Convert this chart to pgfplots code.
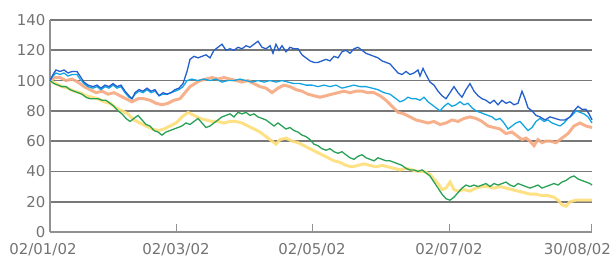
\documentclass[border=0pt]{standalone}
\usepackage{pgfplots}
\pgfplotsset{compat=1.18}
\usepackage{fontspec}
\setmainfont{DejaVu Sans}
\definecolor{cBlue}{RGB}{35,95,205}
\definecolor{cCyan}{RGB}{20,165,225}
\definecolor{cOrange}{RGB}{245,168,128}
\definecolor{cYellow}{RGB}{255,222,120}
\definecolor{cGreen}{RGB}{40,160,85}
\definecolor{cGrid}{RGB}{120,120,120}
\definecolor{cAxis}{RGB}{145,145,145}
\definecolor{cLab}{RGB}{115,115,115}
\begin{document}
\begin{tikzpicture}
\begin{axis}[
  scale only axis, width=542bp, height=212bp,
  xmin=50, xmax=592, ymin=0, ymax=140,
  axis x line*=bottom, axis y line*=left,
  axis line style={cAxis, line width=1.4pt},
  ytick={0,20,...,140},
  ymajorgrids, grid style={cGrid, line width=1.7pt},
  ytick style={draw=none},
  xtick={50,176,312,449,591},
  xticklabels={\makebox[0pt]{\hspace*{-14bp}02/01/02},02/03/02,02/05/02,02/07/02,\makebox[0pt][r]{30/08/02\hspace*{-20bp}}},
  xtick style={cAxis, line width=1pt},
  major tick length=8bp, tick align=inside,
  tick label style={font=\fontsize{15}{17}\selectfont, text=cLab},
  /pgf/number format/assume math mode=true,
  yticklabel style={xshift=-1bp},
  xticklabel style={yshift=-8bp},
  clip=false,
]
\addplot[cOrange, line width=3pt, opacity=0.9] coordinates {(50,100)(55,102)(60,102)(66,100)(72,101)(78,99)(84,96)(90,94)(96,92)(102,93)(108,91)(114,92)(120,90)(126,88)(132,86)(138,88)(144,88)(150,87)(156,85)(162,84)(168,85)(174,87)(180,88)(185,92)(190,96)(195,98)(200,100)(206,101)(212,102)(218,101)(224,102)(230,101)(236,100)(242,99)(248,100)(254,98)(260,96)(266,95)(272,92)(278,95)(284,97)(290,96)(296,94)(302,93)(308,91)(314,90)(320,89)(326,90)(332,91)(338,92)(344,93)(350,92)(356,93)(362,93)(368,92)(374,92)(380,90)(386,87)(392,83)(398,79)(404,78)(410,76)(416,74)(422,73)(428,72)(434,73)(440,71)(446,72)(452,74)(458,73)(464,75)(470,76)(476,75)(482,73)(488,70)(494,69)(500,68)(506,65)(512,66)(518,63)(522,61)(526,62)(530,60)(534,57)(538,61)(542,59)(546,60)(550,60)(556,59)(562,62)(568,65)(574,70)(580,72)(586,70)(592,69)};
\addplot[cYellow, line width=3pt, opacity=0.9] coordinates {(50,100)(56,98)(62,96)(68,95)(74,93)(80,92)(86,90)(92,89)(98,88)(104,86)(110,85)(116,82)(122,80)(128,78)(134,74)(140,72)(146,70)(152,68)(158,67)(164,68)(170,70)(176,72)(182,76)(188,79)(194,77)(200,75)(206,74)(212,73)(218,73)(224,72)(230,73)(236,73)(242,72)(248,70)(254,68)(260,66)(266,63)(272,60)(276,58)(280,61)(286,62)(292,60)(298,59)(304,57)(310,55)(316,53)(322,51)(328,49)(334,47)(340,46)(346,44)(352,43)(358,44)(364,45)(370,44)(376,43)(382,44)(388,43)(394,42)(400,41)(406,42)(412,41)(418,40)(424,40)(430,38)(434,35)(438,32)(442,28)(446,29)(450,33)(454,28)(458,27)(464,28)(470,27)(476,29)(482,30)(488,30)(494,29)(500,30)(506,29)(512,28)(518,27)(524,26)(530,25)(536,25)(542,24)(548,24)(554,23)(558,21)(562,18)(566,17)(570,20)(576,21)(582,21)(588,21)(592,21)};
\addplot[cGreen, line width=1.3pt] coordinates {(50,100)(54,98)(58,97)(62,96)(66,96)(70,94)(74,93)(78,92)(82,91)(86,89)(90,88)(94,88)(98,88)(102,87)(106,87)(110,85)(114,83)(118,80)(122,78)(126,75)(130,73)(134,75)(138,77)(142,74)(146,71)(150,70)(154,67)(158,66)(162,64)(166,66)(170,67)(174,68)(178,69)(182,70)(186,72)(190,71)(194,73)(198,75)(202,72)(206,69)(210,70)(214,72)(218,74)(222,76)(226,77)(230,78)(234,76)(238,79)(242,78)(246,79)(250,77)(254,78)(258,76)(262,75)(266,74)(270,72)(274,70)(278,72)(282,70)(286,68)(290,69)(294,67)(298,66)(302,64)(306,63)(310,61)(314,58)(318,57)(322,55)(326,54)(330,55)(334,53)(338,52)(342,53)(346,51)(350,49)(354,48)(358,50)(362,51)(366,49)(370,48)(374,47)(378,49)(382,48)(386,47)(390,47)(394,46)(398,45)(402,44)(406,42)(410,41)(414,41)(418,40)(422,41)(426,39)(430,37)(434,33)(438,29)(442,25)(446,22)(450,21)(454,23)(458,26)(462,29)(466,31)(470,30)(474,31)(478,30)(482,31)(486,32)(490,30)(494,32)(498,31)(502,32)(506,33)(510,31)(514,30)(518,32)(522,31)(526,30)(530,29)(534,30)(538,31)(542,29)(546,30)(550,31)(554,32)(558,31)(562,33)(566,34)(570,36)(574,37)(578,35)(582,34)(586,33)(590,32)(592,31)};
\addplot[cCyan, line width=1.3pt] coordinates {(50,100)(53,103)(56,105)(60,104)(64,105)(68,103)(72,104)(77,104)(80,101)(84,98)(88,96)(93,95)(97,96)(101,94)(105,96)(109,95)(113,97)(117,95)(121,96)(125,92)(129,89)(132,88)(135,91)(139,93)(143,92)(147,94)(151,92)(155,93)(159,90)(163,91)(167,91)(171,92)(175,93)(179,94)(183,96)(187,100)(192,101)(198,100)(204,101)(210,100)(216,101)(222,99)(228,100)(234,100)(240,101)(246,100)(252,99)(258,100)(264,99)(270,100)(276,99)(282,100)(288,99)(294,98)(300,98)(306,97)(312,97)(318,96)(324,97)(330,96)(336,97)(342,95)(348,96)(354,97)(360,96)(366,96)(372,95)(378,94)(384,92)(390,91)(396,88)(400,86)(404,87)(408,89)(412,88)(416,88)(420,87)(424,89)(428,86)(432,84)(436,82)(440,80)(444,83)(448,85)(452,83)(456,84)(460,86)(464,84)(468,85)(472,82)(476,80)(480,79)(484,78)(488,77)(492,76)(496,74)(500,75)(504,72)(508,68)(512,70)(516,72)(520,73)(524,70)(528,67)(532,69)(536,73)(540,75)(544,73)(548,74)(552,72)(556,71)(560,70)(564,72)(568,75)(572,77)(576,80)(580,79)(584,78)(588,76)(592,72)};
\addplot[cBlue, line width=1.3pt] coordinates {(50,100)(53,104)(56,107)(60,106)(64,107)(68,105)(72,106)(77,106)(80,103)(84,99)(88,97)(93,96)(97,97)(101,95)(105,97)(109,96)(113,98)(117,96)(121,97)(125,93)(129,90)(132,88)(135,92)(139,94)(143,93)(147,95)(151,93)(155,94)(159,90)(163,92)(167,91)(171,92)(175,94)(179,95)(183,98)(187,106)(190,114)(194,116)(198,115)(202,116)(206,117)(210,115)(214,120)(218,122)(222,124)(226,120)(230,121)(234,120)(238,122)(242,121)(246,123)(250,122)(254,124)(258,126)(262,122)(266,121)(270,123)(273,118)(276,124)(279,120)(282,123)(286,119)(290,122)(294,121)(298,121)(302,117)(306,115)(310,113)(314,112)(318,112)(322,113)(326,114)(330,113)(334,116)(338,115)(342,119)(346,120)(350,118)(354,121)(358,122)(362,120)(366,118)(370,117)(374,116)(378,115)(382,113)(386,112)(390,111)(394,108)(398,105)(402,104)(406,106)(410,104)(414,105)(418,107)(420,103)(423,108)(426,104)(430,99)(434,97)(438,93)(442,90)(446,88)(450,92)(454,96)(458,92)(462,89)(466,94)(470,98)(474,93)(478,90)(482,88)(486,87)(490,85)(494,87)(498,84)(502,87)(506,85)(510,86)(514,84)(518,85)(522,93)(525,88)(528,82)(532,80)(536,77)(540,76)(545,74)(550,76)(555,75)(560,74)(565,74)(570,76)(574,80)(578,83)(582,81)(586,81)(589,78)(592,74)};
\end{axis}
\pgfresetboundingbox
\path (-50bp,-31bp) rectangle (563bp,232bp);
\end{tikzpicture}
\end{document}
